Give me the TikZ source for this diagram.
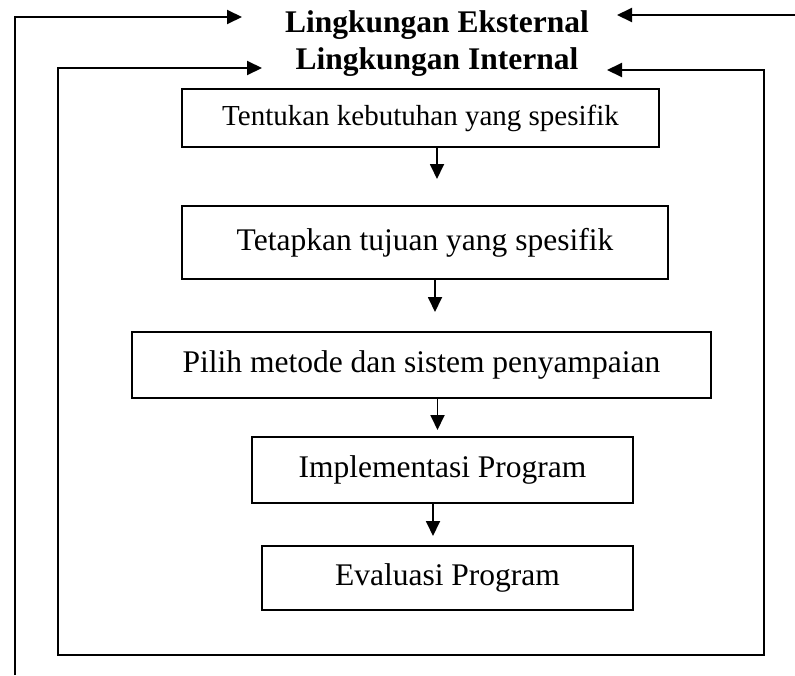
\documentclass[tikz,border=0pt]{standalone}
\usepackage{fontspec}
\setmainfont{Liberation Serif}
\usetikzlibrary{arrows.meta}
\tikzstyle{process} = [rectangle, draw, line width=1.6pt, text centered, inner sep=0pt, font=\fontsize{31.5}{36}\selectfont]
\tikzstyle{heading} = [inner sep=0pt, anchor=base, font=\fontsize{31.5}{36}\selectfont\bfseries]
\tikzstyle{connector} = [line width=1.8pt,-{Triangle[length=15pt,width=14pt]}]
\tikzstyle{frame} = [line width=2pt,{Triangle[length=15pt,width=14pt]}-{Triangle[length=15pt,width=14pt]}]

\begin{document}
\begin{tikzpicture}[x=1pt,y=-1pt]
        \useasboundingbox (0,0) rectangle (795,675);
        % headings
        \node (external) [heading] at (437,32) {Lingkungan Eksternal};
        \node (internal) [heading] at (437,69) {Lingkungan Internal};
        % steps
        \node (needs) [process,minimum width=477pt,minimum height=58pt,font=\fontsize{29}{34}\selectfont] at (420.5,118) {Tentukan kebutuhan yang spesifik};
        \node (goals) [process,minimum width=486pt,minimum height=73pt] at (425,242.5) {Tetapkan tujuan yang spesifik};
        \node (method) [process,minimum width=579pt,minimum height=66pt] at (421.5,365) {Pilih metode dan sistem penyampaian};
        \node (implement) [process,minimum width=381pt,minimum height=66pt] at (442.5,470) {Implementasi Program};
        \node (evaluate) [process,minimum width=371pt,minimum height=64pt] at (447.5,578) {Evaluasi Program};
        % arrow tips and frame corners
        \coordinate (tip1) at (437,179);
        \coordinate (tip2) at (435,312);
        \coordinate (tip3) at (437.5,430);
        \coordinate (tip4) at (433,536);
        \coordinate (ext-foot) at (15,675);
        \coordinate (ext-tip-l) at (242,17);
        \coordinate (ext-tip-r) at (617,15);
        \coordinate (ext-edge) at (795,15);
        \coordinate (int-tip-l) at (262,68);
        \coordinate (int-bl) at (58,655);
        \coordinate (int-tr) at (764,70);
        \coordinate (int-tip-r) at (607,70);
        \draw [connector] (needs.south -| tip1) -- (tip1);
        \draw [connector] (goals.south -| tip2) -- (tip2);
        \draw [connector] (method.south -| tip3) -- (tip3);
        \draw [connector] (implement.south -| tip4) -- (tip4);
        \draw [connector,line width=2pt] (ext-foot) |- (ext-tip-l);
        \draw [connector,line width=2pt] (ext-edge) -- (ext-tip-r);
        \draw [frame] (int-tip-l) -| (int-bl) -| (int-tr) -- (int-tip-r);
    \end{tikzpicture}
\end{document}
